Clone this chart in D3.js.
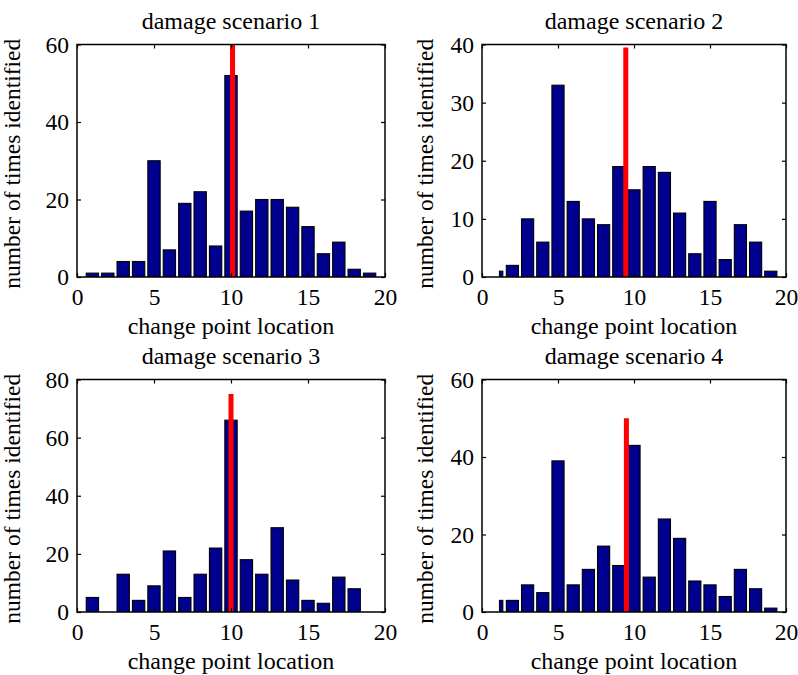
<!DOCTYPE html>
<html>
<head>
<meta charset="utf-8">
<script src="https://cdn.jsdelivr.net/npm/d3@7"></script>
<style>
  html, body { margin: 0; padding: 0; background: #ffffff; }
  svg { display: block; }
  text { font-family: "Liberation Serif", "Times New Roman", serif; fill: #000; }
</style>
</head>
<body>
<svg id="chart" width="798" height="675"></svg>
<script>
// ---------------- data ----------------
const titles = ["damage scenario 1", "damage scenario 2", "damage scenario 3", "damage scenario 4"];
const xLabel = "change point location";
const yLabel = "number of times identified";
const xTicks = [0, 5, 10, 15, 20];

const yTicks1 = [0, 20, 40, 60];
const yTicks2 = [0, 10, 20, 30, 40];
const yTicks3 = [0, 20, 40, 60, 80];
const yTicks4 = [0, 20, 40, 60];

// bar centres (change point location)
const centers1 = [1, 2, 3, 4, 5, 6, 7, 8, 9, 10, 11, 12, 13, 14, 15, 16, 17, 18, 19];
const centers2 = [1.26, 2, 3, 4, 5, 6, 7, 8, 9, 10, 11, 12, 13, 14, 15, 16, 17, 18, 19];
const centers3 = [1, 2, 3, 4, 5, 6, 7, 8, 9, 10, 11, 12, 13, 14, 15, 16, 17, 18, 19];
const centers4 = [1.26, 2, 3, 4, 5, 6, 7, 8, 9, 10, 11, 12, 13, 14, 15, 16, 17, 18, 19];

// counts (number of times identified)
const counts1 = [1, 1, 4, 4, 30, 7, 19, 22, 8, 52, 17, 20, 20, 18, 13, 6, 9, 2, 1];
const counts2 = [1, 2, 10, 6, 33, 13, 10, 9, 19, 15, 19, 18, 11, 4, 13, 3, 9, 6, 1];
const counts3 = [5, 0, 13, 4, 9, 21, 5, 13, 22, 66, 18, 13, 29, 11, 4, 3, 12, 8, 0];
const counts4 = [3, 3, 7, 5, 39, 7, 11, 17, 12, 43, 9, 24, 19, 8, 7, 4, 11, 6, 1];

// true damage location (red line): x position and height
const trueLoc = [10.1, 9.46, 10, 9.5];
const trueTop = [60, 39.5, 75, 50];

const yMaxes = [60, 40, 80, 60];

// ---------------- layout / style ----------------
const BAR_W = 0.8;
const NARROW_W = 0.22;       // first (partial) bar in scenarios 2 and 4
const FONT = 23.5;
const panels = [
  { left: 77,  right: 385, top: 44.5, bottom: 277, ylabOff: 57, centers: centers1, counts: counts1, yTicks: yTicks1, narrowFirst: false },
  { left: 482, right: 786, top: 44.5, bottom: 277, ylabOff: 49, centers: centers2, counts: counts2, yTicks: yTicks2, narrowFirst: true },
  { left: 77,  right: 385, top: 379.5, bottom: 612, ylabOff: 57, centers: centers3, counts: counts3, yTicks: yTicks3, narrowFirst: false },
  { left: 482, right: 786, top: 379.5, bottom: 612, ylabOff: 49, centers: centers4, counts: counts4, yTicks: yTicks4, narrowFirst: true }
];

const svg = d3.select("#chart");

panels.forEach((p, i) => {
  const x = d3.scaleLinear().domain([0, 20]).range([p.left, p.right]);
  const y = d3.scaleLinear().domain([0, yMaxes[i]]).range([p.bottom, p.top]);
  const g = svg.append("g");

  const clipId = "clip" + i;
  svg.append("clipPath").attr("id", clipId)
    .append("rect")
    .attr("x", p.left).attr("y", p.top)
    .attr("width", p.right - p.left).attr("height", p.bottom - p.top);

  const data = p.centers.map((c, j) => ({
    c: c,
    n: p.counts[j],
    w: (p.narrowFirst && j === 0) ? NARROW_W : BAR_W
  })).filter(d => d.n > 0);

  const plot = g.append("g").attr("clip-path", `url(#${clipId})`);

  plot.selectAll("rect.bar").data(data).enter().append("rect")
    .attr("class", "bar")
    .attr("x", d => x(d.c - d.w / 2))
    .attr("width", d => x(d.c + d.w / 2) - x(d.c - d.w / 2))
    .attr("y", d => y(d.n))
    .attr("height", d => y(0) - y(d.n))
    .attr("fill", "#00008f")
    .attr("stroke", "#000")
    .attr("stroke-width", 1.1);

  plot.append("line")
    .attr("x1", x(trueLoc[i])).attr("x2", x(trueLoc[i]))
    .attr("y1", y(0)).attr("y2", y(trueTop[i]))
    .attr("stroke", "#ff0000")
    .attr("stroke-width", 5);

  // axes (ticks pointing inward, MATLAB style)
  const axB = g.append("g").attr("transform", `translate(0,${p.bottom})`)
    .call(d3.axisBottom(x).tickValues(xTicks).tickSizeInner(-4).tickSizeOuter(0).tickPadding(11));
  const axT = g.append("g").attr("transform", `translate(0,${p.top})`)
    .call(d3.axisTop(x).tickValues(xTicks).tickSizeInner(-4).tickSizeOuter(0).tickFormat(""));
  const axL = g.append("g").attr("transform", `translate(${p.left},0)`)
    .call(d3.axisLeft(y).tickValues(p.yTicks).tickSizeInner(-4).tickSizeOuter(0).tickPadding(8));
  const axR = g.append("g").attr("transform", `translate(${p.right},0)`)
    .call(d3.axisRight(y).tickValues(p.yTicks).tickSizeInner(-4).tickSizeOuter(0).tickFormat(""));

  [axB, axT, axL, axR].forEach(a => {
    a.select(".domain").remove();
    a.selectAll("line").attr("stroke", "#000").attr("stroke-width", 1.2);
    a.selectAll("text")
      .style("font-family", '"Liberation Serif", "Times New Roman", serif')
      .style("font-size", FONT + "px")
      .attr("fill", "#000");
  });

  // box
  g.append("rect")
    .attr("x", p.left).attr("y", p.top)
    .attr("width", p.right - p.left).attr("height", p.bottom - p.top)
    .attr("fill", "none").attr("stroke", "#000").attr("stroke-width", 1.5);

  // title
  g.append("text")
    .attr("x", (p.left + p.right) / 2).attr("y", p.top - 16)
    .attr("text-anchor", "middle")
    .style("font-size", (FONT + 0.5) + "px")
    .text(titles[i]);

  // x label
  g.append("text")
    .attr("x", (p.left + p.right) / 2).attr("y", p.bottom + 57)
    .attr("text-anchor", "middle")
    .style("font-size", (FONT + 0.5) + "px")
    .text(xLabel);

  // y label
  const yc = (p.top + p.bottom) / 2 + 3;
  g.append("text")
    .attr("transform", `translate(${p.left - p.ylabOff},${yc}) rotate(-90)`)
    .attr("text-anchor", "middle")
    .style("font-size", FONT + "px")
    .text(yLabel);
});
</script>
</body>
</html>
